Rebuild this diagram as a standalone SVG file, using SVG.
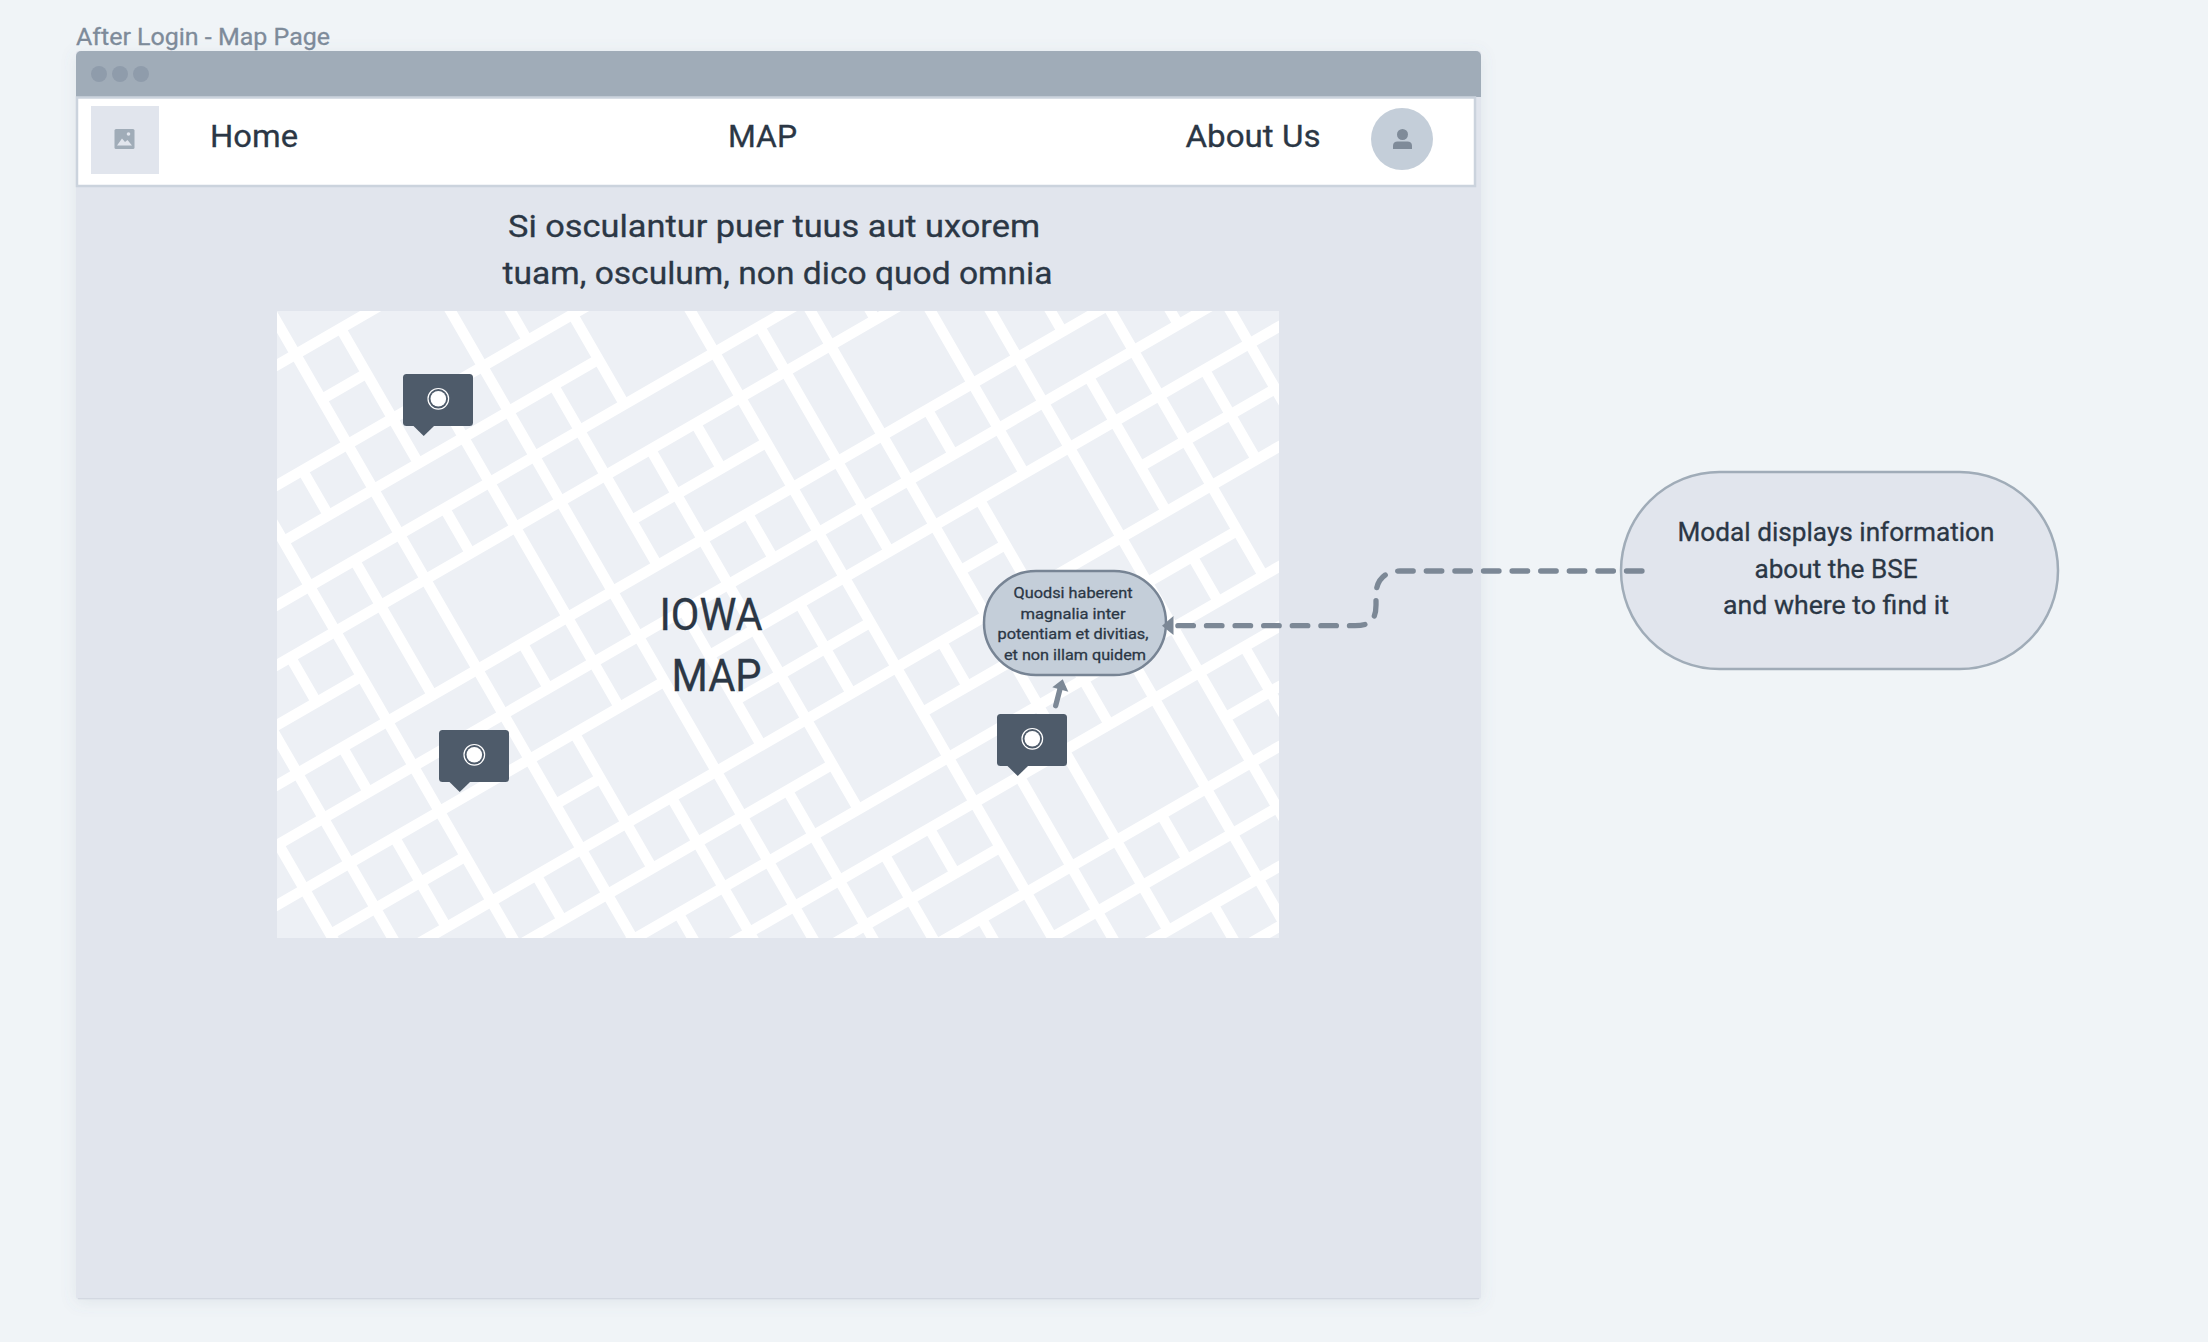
<svg xmlns="http://www.w3.org/2000/svg" width="2208" height="1342" viewBox="0 0 2208 1342">
<style>
text{font-family:Roboto,"Noto Sans",sans-serif;fill:#2b3745;stroke:#2b3745;stroke-width:.3;font-weight:400}
.c{text-anchor:middle}
.pin{fill:#4e5b6a}
.ring{fill:none;stroke:#fff;stroke-width:1.2}
.dot{fill:#fff}
.win{fill:#8f9cab}
.street{fill:none;stroke:#fff;stroke-width:12.3}
.conn{fill:none;stroke:#7c8896;stroke-width:5.3;stroke-linecap:round}
.head{fill:#7c8896}
</style>
<defs>
<filter id="sh" x="-3%" y="-3%" width="106%" height="106%"><feDropShadow dx="0" dy="3" stdDeviation="8" flood-color="#6b7a8a" flood-opacity=".12"/></filter>
<clipPath id="mapclip"><rect x="277" y="311" width="1002" height="627"/></clipPath>
<g id="pinshape">
<rect x="0" y="0" width="70" height="52" rx="3.5" class="pin"/>
<path d="M10.500 52H31L20.700 62Z" class="pin"/>
<circle cx="35.300" cy="24.800" r="10.300" class="ring"/>
<circle cx="35.300" cy="24.800" r="7.800" class="dot"/>
</g>
</defs>
<rect width="2208" height="1342" fill="#f0f4f7"/>
<text x="76" y="45" font-size="24" style="fill:#7e8b9a;stroke:#7e8b9a" textLength="254" lengthAdjust="spacingAndGlyphs">After Login - Map Page</text>
<g id="browser">
<rect x="76" y="51" width="1405" height="1248" rx="2" fill="#e1e5ed" filter="url(#sh)"/>
<rect x="78" y="1298" width="1401" height="1.300" fill="#d3d8e1"/>
<path d="M76 97V56a5 5 0 0 1 5-5H1476a5 5 0 0 1 5 5V97Z" fill="#a0acb8"/>
<circle cx="99" cy="74" r="8" class="win"/>
<circle cx="120" cy="74" r="8" class="win"/>
<circle cx="141" cy="74" r="8" class="win"/>
</g>
<g id="navbar">
<rect x="77" y="97.500" width="1398" height="88.500" fill="#fff" stroke="#cbd3dd" stroke-width="2.500"/>
<rect x="91" y="106" width="68" height="68" fill="#e1e5ed"/>
<rect x="114.500" y="129" width="20" height="20" rx="1.500" fill="#a0acb8"/>
<path d="M117 145.500l5-7 3 3.500 2.500-2 4.500 5.500Z" fill="#e1e5ed"/>
<circle cx="128.500" cy="134" r="1.800" fill="#e1e5ed"/>
<text x="210" y="147" font-size="32" textLength="88" lengthAdjust="spacingAndGlyphs">Home</text>
<text x="728" y="147" font-size="32" textLength="69" lengthAdjust="spacingAndGlyphs">MAP</text>
<text x="1185.500" y="147" font-size="32" textLength="135" lengthAdjust="spacingAndGlyphs">About Us</text>
<circle cx="1402" cy="139" r="31" fill="#c4ced9"/>
<circle cx="1402.500" cy="134.500" r="5.500" fill="#7f8b99"/>
<path d="M1393 149v-3.500c0-2.500 2-4 4.500-4h10c2.500 0 4.500 1.500 4.500 4v3.500Z" fill="#7f8b99"/>
</g>
<g id="heading">
<text x="774" y="237" font-size="32" class="c" textLength="532" lengthAdjust="spacingAndGlyphs">Si osculantur puer tuus aut uxorem</text>
<text x="777.500" y="284" font-size="32" class="c" textLength="550" lengthAdjust="spacingAndGlyphs">tuam, osculum, non dico quod omnia</text>
</g>
<g id="map">
<rect x="277" y="311" width="1002" height="627" fill="#edf0f5"/>
<g clip-path="url(#mapclip)">
<g transform="matrix(.75 -.43301 .43301 .75 0 0)">
<path class="street" d="M-400 525H1300M91 585H151M-400 645H1300M-29 705H391M-400 765H1300M-400 825H1300M-400 885H-29M331 885H511M-400 945H1300M-400 1005H1300M-400 1065H271M331 1065H1300M-209 1125H-29M91 1125H151M331 1125H511M631 1125H691M871 1125H1051M-400 1185H1300M-400 1245H391M511 1245H931M-400 1305H1300M-400 1365H1300M-400 1425H511M811 1425H1300M-400 1485H1300M511 1545H1300M-400 1605H1300M-400 1665H1300"/>
<path class="street" d="M-209 1005V1800M-149 400V1800M-89 825V885M-89 945V1005M-89 1065V1185M-29 400V1800M31 645V705M31 765V945M31 1185V1245M91 400V1800M151 525V705M151 765V825M151 945V1005M151 1065V1245M151 1305V1800M211 645V1065M211 1185V1800M271 400V1800M331 400V645M331 705V945M331 1005V1185M331 1245V1800M391 645V765M391 825V1305M391 1365V1485M451 825V885M451 945V1005M451 1065V1185M451 1365V1425M451 1485V1800M511 400V1800M571 765V1065M571 1185V1245M571 1365V1800M631 400V1605M691 400V825M691 945V1005M691 1065V1365M691 1485V1545M691 1605V1800M751 400V1065M751 1305V1800M811 400V1800M871 400V945M871 1005V1185M871 1245V1305M871 1365V1800M931 400V1305M991 400V1005M991 1065V1185M1051 400V1800"/>
</g>
</g>
<text x="711" y="630" font-size="45" class="c" textLength="103" lengthAdjust="spacingAndGlyphs">IOWA</text>
<text x="716.500" y="691" font-size="45" class="c" textLength="90" lengthAdjust="spacingAndGlyphs">MAP</text>
</g>
<use id="pin1" href="#pinshape" x="403" y="374"/>
<use id="pin2" href="#pinshape" x="439" y="730"/>
<use id="pin3" href="#pinshape" x="997" y="714"/>
<g id="modal">
<rect x="984" y="571" width="182" height="104" rx="52" fill="#c4ced9" stroke="#778494" stroke-width="2.500"/>
<g font-size="15.500">
<text x="1073" y="598.300" class="c" textLength="119" lengthAdjust="spacingAndGlyphs">Quodsi haberent</text>
<text x="1073" y="619" class="c" textLength="105" lengthAdjust="spacingAndGlyphs">magnalia inter</text>
<text x="1073" y="639.300" class="c" textLength="151" lengthAdjust="spacingAndGlyphs">potentiam et divitias,</text>
<text x="1075" y="660" class="c" textLength="142" lengthAdjust="spacingAndGlyphs">et non illam quidem</text>
</g>
</g>
<g id="note">
<rect x="1621" y="472" width="437" height="197" rx="98.500" fill="#e1e5ed" stroke="#a0acb8" stroke-width="2.500"/>
<g font-size="25.500">
<text x="1836" y="541" class="c" textLength="317" lengthAdjust="spacingAndGlyphs">Modal displays information</text>
<text x="1836" y="578" class="c" textLength="163" lengthAdjust="spacingAndGlyphs">about the BSE</text>
<text x="1836" y="614" class="c" textLength="226" lengthAdjust="spacingAndGlyphs">and where to find it</text>
</g>
</g>
<g id="connectors">
<path class="conn" stroke-dasharray="15.500 13.100" d="M1642 571H1400C1385 571 1376 580 1376 595V605C1376 620 1370 625.700 1355 625.700H1176"/>
<path class="head" d="M1162 625.700L1173.500 616V635Z"/>
<path class="conn" d="M1055.700 705.700L1060.500 687"/>
<path class="head" d="M1062.700 679.300L1052.300 687.300L1068.300 691.700Z"/>
</g>
</svg>
